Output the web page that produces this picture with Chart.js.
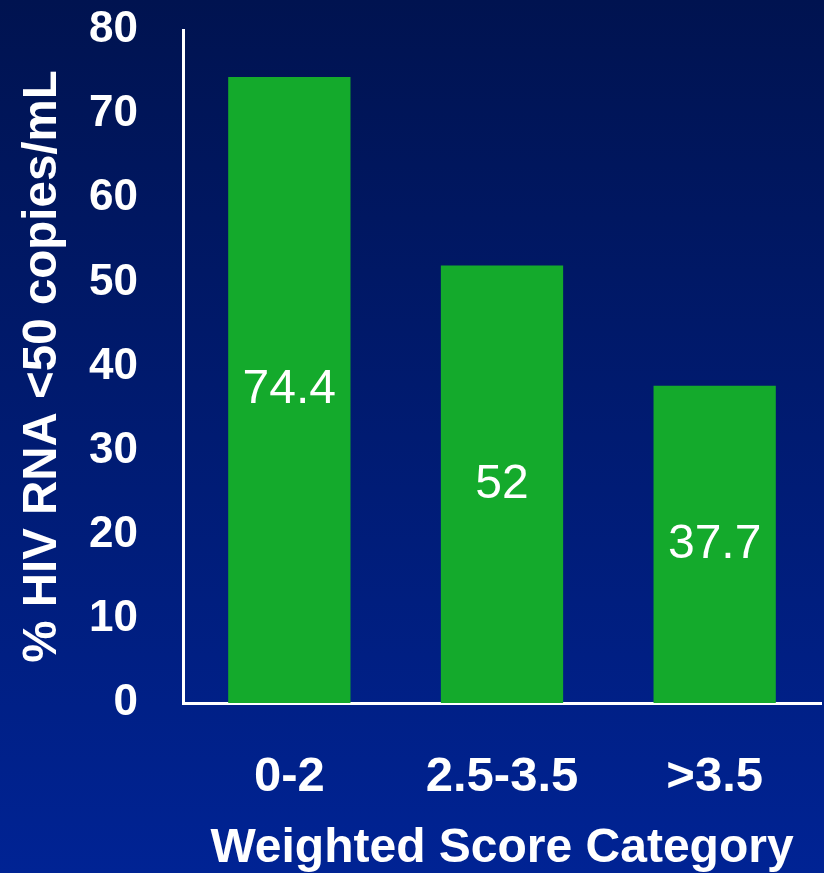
<!DOCTYPE html>
<html>
<head>
<meta charset="utf-8">
<script src="https://cdn.jsdelivr.net/npm/chart.js@4/dist/chart.umd.min.js"></script>
<style>
  html, body { margin: 0; padding: 0; }
  #wrap { width: 824px; height: 873px; }
</style>
</head>
<body>
<div id="wrap"><canvas id="myChart"></canvas></div>
<script>
const categories = ['0-2', '2.5-3.5', '>3.5'];
const suppressed = [74.4, 52, 37.7];
const yTicks = [0, 10, 20, 30, 40, 50, 60, 70, 80];

const fontFamily = '"Liberation Sans", Arial, Helvetica, sans-serif';

// dark navy to royal blue backdrop
const backdrop = {
    id: 'backdrop',
    beforeDraw(chart) {
        const ctx = chart.ctx;
        const g = ctx.createLinearGradient(0, 0, 0, chart.height);
        g.addColorStop(0, '#001350');
        g.addColorStop(1, '#002394');
        ctx.save();
        ctx.fillStyle = g;
        ctx.fillRect(0, 0, chart.width, chart.height);
        ctx.restore();
    }
};

// value written in the middle of each bar
const barValues = {
    id: 'barValues',
    afterDatasetsDraw(chart) {
        const ctx = chart.ctx;
        const meta = chart.getDatasetMeta(0);
        ctx.save();
        ctx.fillStyle = '#ffffff';
        ctx.font = '48px ' + fontFamily;
        ctx.textAlign = 'center';
        ctx.textBaseline = 'middle';
        meta.data.forEach((bar, i) => {
            const y = (bar.y + bar.base) / 2;
            ctx.fillText(String(suppressed[i]), bar.x, y);
        });
        ctx.restore();
    }
};

const ctx = document.getElementById('myChart').getContext('2d');
new Chart(ctx, {
    type: 'bar',
    data: {
        labels: categories,
        datasets: [{
            data: suppressed,
            backgroundColor: '#14aa2c',
            barPercentage: 0.575,
            categoryPercentage: 1
        }]
    },
    options: {
        responsive: true,
        maintainAspectRatio: false,
        animation: false,
        layout: { padding: { top: 30, right: 3, left: 14, bottom: 0 } },
        plugins: {
            legend: { display: false },
            tooltip: { enabled: false }
        },
        scales: {
            x: {
                grid: { display: false, drawTicks: false },
                border: { color: '#ffffff', width: 3 },
                ticks: {
                    color: '#ffffff',
                    padding: 45,
                    font: { family: fontFamily, size: 49, weight: 'bold' }
                },
                title: {
                    display: true,
                    text: 'Weighted Score Category',
                    color: '#ffffff',
                    padding: { top: 0, bottom: 0 },
                    font: { family: fontFamily, size: 48, weight: 'bold', lineHeight: 1.0 }
                },
                afterFit(axis) {
                    axis.height = 170;
                    axis.paddingLeft = 0;
                    axis.paddingRight = 0;
                }
            },
            y: {
                min: 0,
                max: 80,
                afterBuildTicks(axis) { axis.ticks = yTicks.map(v => ({ value: v })); },
                grid: { display: false, drawTicks: false },
                border: { color: '#ffffff', width: 3 },
                ticks: {
                    color: '#ffffff',
                    padding: 45,
                    font: { family: fontFamily, size: 44, weight: 'bold' }
                },
                title: {
                    display: true,
                    text: '% HIV RNA <50 copies/mL',
                    color: '#ffffff',
                    padding: { top: 0, bottom: 0 },
                    font: { family: fontFamily, size: 47.5, weight: 'bold' }
                },
                afterFit(axis) {
                    axis.width = 169;
                    axis.paddingTop = 0;
                    axis.paddingBottom = 0;
                }
            }
        }
    },
    plugins: [backdrop, barValues]
});
</script>
</body>
</html>
